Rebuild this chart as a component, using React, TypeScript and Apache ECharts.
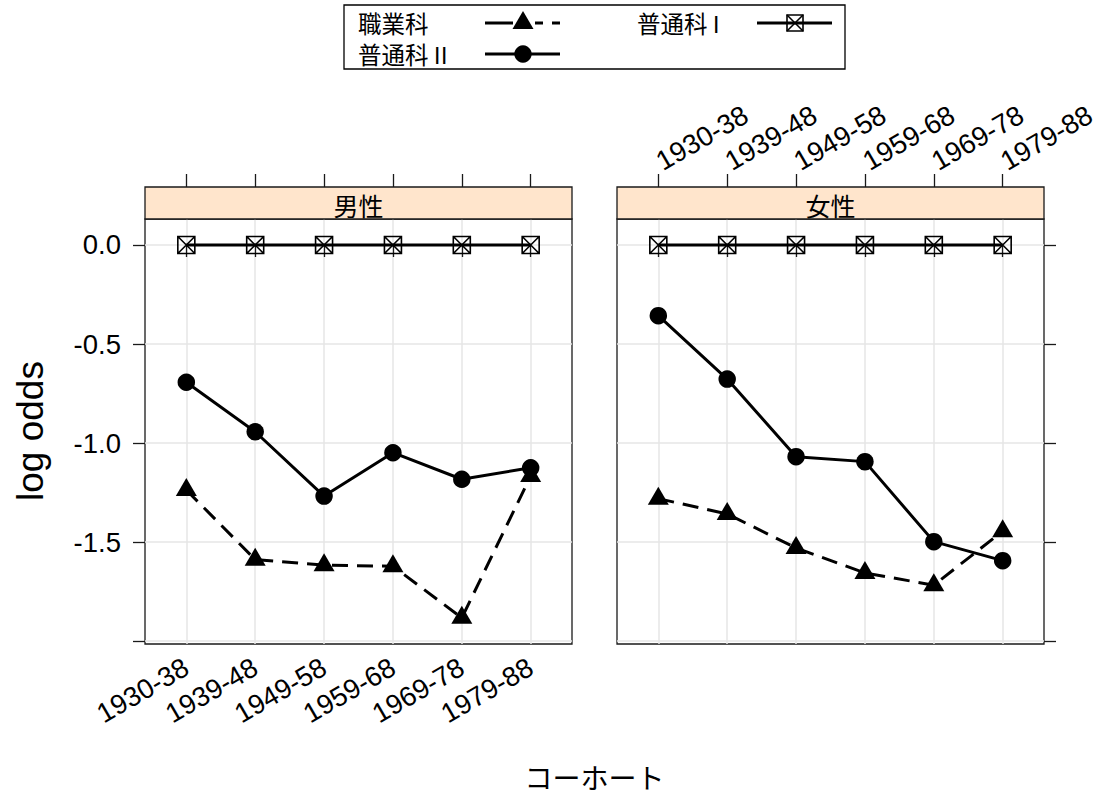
import React, { useEffect, useRef } from "react";
import * as echarts from "echarts";

// ---- data ----
const cohorts = ["1930-38", "1939-48", "1949-58", "1959-68", "1969-78", "1979-88"];
const panelNames = ["男性", "女性"];
const seriesNames = ["職業科", "普通科 I", "普通科 II"];
const maleVocational = [-1.237, -1.589, -1.617, -1.622, -1.883, -1.167];
const maleGeneralI = [0, 0, 0, 0, 0, 0];
const maleGeneralII = [-0.693, -0.943, -1.268, -1.049, -1.183, -1.125];
const femaleVocational = [-1.281, -1.358, -1.53, -1.656, -1.718, -1.445];
const femaleGeneralI = [0, 0, 0, 0, 0, 0];
const femaleGeneralII = [-0.357, -0.677, -1.069, -1.094, -1.498, -1.594];
const yTickValues = [-2, -1.5, -1, -0.5, 0];
const yLabelValues = [-1.5, -1, -0.5, 0];
const xLabel = "コーホート";
const yLabel = "log odds";

const panelData = [
  [maleVocational, maleGeneralI, maleGeneralII],
  [femaleVocational, femaleGeneralI, femaleGeneralII],
];

// ---- style / layout ----
const FONT = "'Liberation Sans', Arial, 'Noto Sans CJK JP', sans-serif";
const CJK = "'Noto Sans CJK JP', 'Liberation Sans', sans-serif";
const PANEL_LEFT = [145, 617];
const PANEL_W = 427;
const PANEL_TOP = 219;
const PANEL_H = 425;
const STRIP_H = 32;
const BORDER = "#1a1a1a";
const GRID_LINE = "#e6e6e6";
const LINE_W = 3;
const DASH = [16, 9];
const TICK_FS = 27.5;
const SQUARE_PATH = "path://M0,0H16V16H0Z M0,0L16,16 M16,0L0,16";

const symbolFor = (k: number) => {
  if (k === 0)
    return { symbol: "triangle", symbolSize: [21, 18], symbolOffset: [0, -3] };
  if (k === 1) return { symbol: SQUARE_PATH, symbolSize: 17, symbolOffset: [0, 0] };
  return { symbol: "circle", symbolSize: 17.5, symbolOffset: [0, 0] };
};

function buildOption() {
  const xTickVals = cohorts.map((_, i) => i + 1);
  const grid = PANEL_LEFT.map((l) => ({
    left: l,
    top: PANEL_TOP,
    width: PANEL_W,
    height: PANEL_H,
    show: true,
    borderColor: BORDER,
    borderWidth: 1.3,
    backgroundColor: "transparent",
    containLabel: false,
    outerBoundsMode: "none",
  }));

  const xAxis: any[] = [];
  PANEL_LEFT.forEach((_, p) => {
    // bottom
    xAxis.push({
      type: "value",
      gridIndex: p,
      position: "bottom",
      min: 0.4,
      max: 6.6,
      axisLine: { show: false },
      axisTick: { show: true, length: 12, inside: false, customValues: xTickVals, lineStyle: { color: BORDER, width: 1.3 } },
      axisLabel: {
        show: p === 0,
        customValues: xTickVals,
        rotate: 30,
        margin: 21,
        fontSize: TICK_FS,
        fontFamily: FONT,
        color: "#000",
        formatter: (v: number) => cohorts[Math.round(v) - 1] ?? "",
      },
      splitLine: { show: true, lineStyle: { color: GRID_LINE, width: 1.5 } },
    });
    // top
    xAxis.push({
      type: "value",
      gridIndex: p,
      position: "top",
      offset: STRIP_H,
      min: 0.4,
      max: 6.6,
      axisLine: { show: false },
      axisTick: { show: true, length: 13, inside: false, customValues: xTickVals, lineStyle: { color: BORDER, width: 1.3 } },
      axisLabel: {
        show: p === 1,
        customValues: xTickVals,
        rotate: -30,
        margin: 24,
        fontSize: TICK_FS,
        fontFamily: FONT,
        color: "#000",
        formatter: (v: number) => cohorts[Math.round(v) - 1] ?? "",
      },
      splitLine: { show: false },
    });
  });

  const yAxis = PANEL_LEFT.map((_, p) => ({
    type: "value",
    gridIndex: p,
    position: p === 0 ? "left" : "right",
    min: -2.015,
    max: 0.1313,
    axisLine: { show: false },
    axisTick: { show: true, length: 12, inside: false, customValues: yTickValues, lineStyle: { color: BORDER, width: 1.3 } },
    axisLabel: {
      show: p === 0,
      customValues: yLabelValues,
      margin: 24,
      fontSize: TICK_FS,
      fontFamily: FONT,
      color: "#000",
      formatter: (v: number) => v.toFixed(1),
    },
    splitLine: { show: true, lineStyle: { color: GRID_LINE, width: 1.5 } },
  }));

  const series: any[] = [];
  panelData.forEach((sets, p) => {
    sets.forEach((vals, k) => {
      const sym = symbolFor(k);
      series.push({
        type: "line",
        name: seriesNames[k],
        xAxisIndex: p * 2,
        yAxisIndex: p,
        data: vals.map((v, i) => [i + 1, v]),
        ...sym,
        showSymbol: true,
        lineStyle: { color: "#000", width: LINE_W, type: k === 0 ? DASH : "solid" },
        itemStyle:
          k === 1
            ? { color: "rgba(0,0,0,0)", borderColor: "#000", borderWidth: 1.6 }
            : { color: "#000", borderColor: "#000", borderWidth: 0 },
        emphasis: { disabled: true },
        z: 3 + k,
      });
    });
  });

  // strips, titles, legend
  const graphic: any[] = [];
  PANEL_LEFT.forEach((l, p) => {
    graphic.push({
      type: "rect",
      shape: { x: l, y: PANEL_TOP - STRIP_H, width: PANEL_W, height: STRIP_H },
      style: { fill: "#ffe5cc", stroke: BORDER, lineWidth: 1.3 },
      z: 10,
    });
    graphic.push({
      type: "text",
      x: l + PANEL_W / 2,
      y: PANEL_TOP - STRIP_H / 2 + 1.5,
      style: {
        text: panelNames[p],
        fontSize: 25,
        fontFamily: CJK,
        fill: "#000",
        textAlign: "center",
        textVerticalAlign: "middle",
      },
      z: 11,
    });
  });
  graphic.push({
    type: "text",
    x: (PANEL_LEFT[0] + PANEL_LEFT[1] + PANEL_W) / 2,
    y: 777,
    style: { text: xLabel, fontSize: 28, fontFamily: CJK, fill: "#000", textAlign: "center", textVerticalAlign: "middle" },
  });
  graphic.push({
    type: "text",
    x: 30,
    y: 431,
    rotation: Math.PI / 2,
    style: { text: yLabel, fontSize: 37, fontFamily: FONT, fill: "#000", textAlign: "center", textVerticalAlign: "middle" },
  });

  // legend
  graphic.push({
    type: "rect",
    shape: { x: 344, y: 5, width: 501, height: 64 },
    style: { fill: "#fff", stroke: "#000", lineWidth: 1.3 },
  });
  const legendItems = [
    { k: 0, tx: 358, lx: 485, y: 23 },
    { k: 1, tx: 637, lx: 757, y: 23 },
    { k: 2, tx: 358, lx: 485, y: 54 },
  ];
  legendItems.forEach(({ k, tx, lx, y }) => {
    graphic.push({
      type: "text",
      x: tx,
      y: y,
      style: { text: seriesNames[k], fontSize: 23.5, fontFamily: CJK, fill: "#000", textAlign: "left", textVerticalAlign: "middle" },
    });
    graphic.push({
      type: "line",
      shape: { x1: lx, y1: y, x2: lx + 75, y2: y },
      style: { stroke: "#000", lineWidth: LINE_W, lineDash: k === 0 ? [28, 22, 8, 9, 8, 100] : null },
    });
    const cx = lx + 38;
    if (k === 0) {
      graphic.push({
        type: "polygon",
        shape: { points: [[cx, y - 12], [cx + 10.5, y + 6], [cx - 10.5, y + 6]] },
        style: { fill: "#000" },
      });
    } else if (k === 1) {
      graphic.push({ type: "rect", shape: { x: cx - 8, y: y - 8, width: 16, height: 16 }, style: { fill: "rgba(0,0,0,0)", stroke: "#000", lineWidth: 1.6 } });
      graphic.push({ type: "line", shape: { x1: cx - 8, y1: y - 8, x2: cx + 8, y2: y + 8 }, style: { stroke: "#000", lineWidth: 1.6 } });
      graphic.push({ type: "line", shape: { x1: cx + 8, y1: y - 8, x2: cx - 8, y2: y + 8 }, style: { stroke: "#000", lineWidth: 1.6 } });
    } else {
      graphic.push({ type: "circle", shape: { cx, cy: y, r: 8.7 }, style: { fill: "#000" } });
    }
  });

  return {
    animation: false,
    backgroundColor: "#fff",
    textStyle: { fontFamily: FONT },
    grid,
    xAxis,
    yAxis,
    series,
    graphic,
  };
}

export default function App() {
  const ref = useRef<HTMLDivElement>(null);
  useEffect(() => {
    if (!ref.current) return;
    const chart = echarts.init(ref.current, null, { renderer: "svg" });
    chart.setOption(buildOption() as any);
    return () => chart.dispose();
  }, []);
  return (
    <div
      ref={ref}
      style={{ position: "fixed", left: 0, top: 0, width: 1104, height: 798, background: "#fff" }}
    />
  );
}
